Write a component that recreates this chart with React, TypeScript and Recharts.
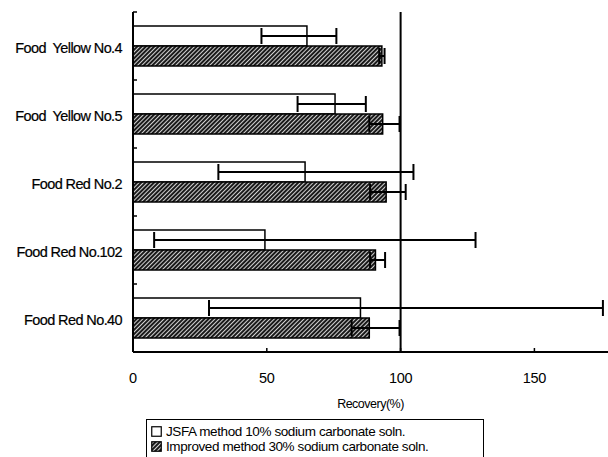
import { BarChart, Bar, XAxis, YAxis, ErrorBar, ReferenceLine } from 'recharts';

// food dyes, top to bottom
const dyes = [
  'Food  Yellow No.4',
  'Food  Yellow No.5',
  'Food Red No.2',
  'Food Red No.102',
  'Food Red No.40',
];
// JSFA method, 10% sodium carbonate soln.
const jsfa = [65, 75.5, 64.3, 49.3, 85];
const jsfaErr = [
  [17, 11],
  [14, 11.5],
  [32.4, 40.5],
  [41.4, 78.7],
  [56.6, 90.6],
];
// improved method, 30% sodium carbonate soln.
const improved = [93, 93.3, 94.6, 90.6, 88.3];
const improvedErr = [
  [1, 1],
  [5, 6.3],
  [6, 7.3],
  [2, 3.6],
  [6.6, 11.3],
];
const xTicks = [0, 50, 100, 150];

const data = dyes.map((name, i) => ({
  name,
  jsfa: jsfa[i],
  jsfaErr: jsfaErr[i],
  improved: improved[i],
  improvedErr: improvedErr[i],
}));

const FONT = '"Liberation Sans", Arial, sans-serif';
const W = 608;
const H = 457;
const MARGIN = { top: 12, right: 0, bottom: 45, left: 0 };
const X_AXIS_H = 60;
const PLOT_H = H - MARGIN.top - MARGIN.bottom - X_AXIS_H;
const HALF_BAND = PLOT_H / dyes.length / 2;

function XTick({ x, y, payload }: any) {
  return (
    <g>
      <line x1={x} y1={y} x2={x} y2={y - 4} stroke="#000" strokeWidth={1.5} />
      <text x={x} y={y + 31} textAnchor="middle" fontFamily={FONT} fontSize={14.5} letterSpacing={-0.3} fill="#000">
        {payload.value}
      </text>
    </g>
  );
}

function YTick({ x, y, payload }: any) {
  return (
    <g>
      <line x1={x} y1={y - HALF_BAND} x2={x + 4} y2={y - HALF_BAND} stroke="#000" strokeWidth={1.5} />
      <text
        x={x - 11}
        y={y + 7}
        textAnchor="end"
        fontFamily={FONT}
        fontSize={14.5}
        letterSpacing={-0.6}
        fill="#000"
        stroke="#000"
        strokeWidth={0.2}
        style={{ whiteSpace: 'pre' }}
      >
        {payload.value}
      </text>
    </g>
  );
}

function Swatch({ hatched }: { hatched?: boolean }) {
  return (
    <svg width={11} height={11} style={{ marginRight: 4, verticalAlign: '-1px' }}>
      <defs>
        <pattern id="hatchSmall" width="3" height="3" patternUnits="userSpaceOnUse" patternTransform="rotate(45)">
          <rect width="3" height="3" fill="#fff" />
          <rect width="2.2" height="3" fill="#1a1a1a" />
        </pattern>
      </defs>
      <rect x={0.75} y={0.75} width={9.5} height={9.5} fill={hatched ? 'url(#hatchSmall)' : '#fff'} stroke="#000" strokeWidth={1.2} />
    </svg>
  );
}

export default function App() {
  return (
    <div style={{ position: 'absolute', left: 0, top: 0, width: W, height: H, overflow: 'hidden', background: '#fff' }}>
      <BarChart width={W} height={H} data={data} layout="vertical" margin={MARGIN} barSize={20} barGap={0}>
        <defs>
          <pattern id="hatch" width="3" height="3" patternUnits="userSpaceOnUse" patternTransform="rotate(45)">
            <rect width="3" height="3" fill="#fff" />
            <rect width="2.2" height="3" fill="#1a1a1a" />
          </pattern>
        </defs>
        <XAxis
          type="number"
          domain={[0, 177.5]}
          ticks={xTicks}
          allowDataOverflow
          height={X_AXIS_H}
          tickSize={0}
          tickMargin={0}
          tickLine={false}
          tick={<XTick />}
          axisLine={{ stroke: '#000', strokeWidth: 2 }}
          label={{
            value: 'Recovery(%)',
            position: 'insideBottom',
            offset: 4,
            fill: '#000',
            fontSize: 12.5,
            fontFamily: FONT,
            letterSpacing: -0.5,
          }}
        />
        <YAxis
          type="category"
          dataKey="name"
          width={133}
          tickSize={0}
          tickMargin={0}
          tickLine={false}
          tick={<YTick />}
          axisLine={{ stroke: '#000', strokeWidth: 2 }}
        />
        <ReferenceLine x={100} stroke="#000" strokeWidth={2} />
        <Bar dataKey="jsfa" fill="#fff" stroke="#000" strokeWidth={1.5} isAnimationActive={false}>
          <ErrorBar dataKey="jsfaErr" direction="x" width={8} stroke="#000" strokeWidth={2} />
        </Bar>
        <Bar dataKey="improved" fill="url(#hatch)" stroke="#000" strokeWidth={1.5} isAnimationActive={false}>
          <ErrorBar dataKey="improvedErr" direction="x" width={8} stroke="#000" strokeWidth={2} />
        </Bar>
      </BarChart>
      <div
        style={{
          position: 'absolute',
          left: 146,
          top: 419,
          width: 338,
          height: 70,
          boxSizing: 'border-box',
          border: '1.5px solid #000',
          padding: '4px 0 0 4px',
          fontFamily: FONT,
          fontSize: 13.5,
          letterSpacing: -0.4,
          lineHeight: '15px',
          color: '#000',
        }}
      >
        <div>
          <Swatch />
          JSFA method 10% sodium carbonate soln.
        </div>
        <div>
          <Swatch hatched />
          Improved method 30% sodium carbonate soln.
        </div>
      </div>
    </div>
  );
}
